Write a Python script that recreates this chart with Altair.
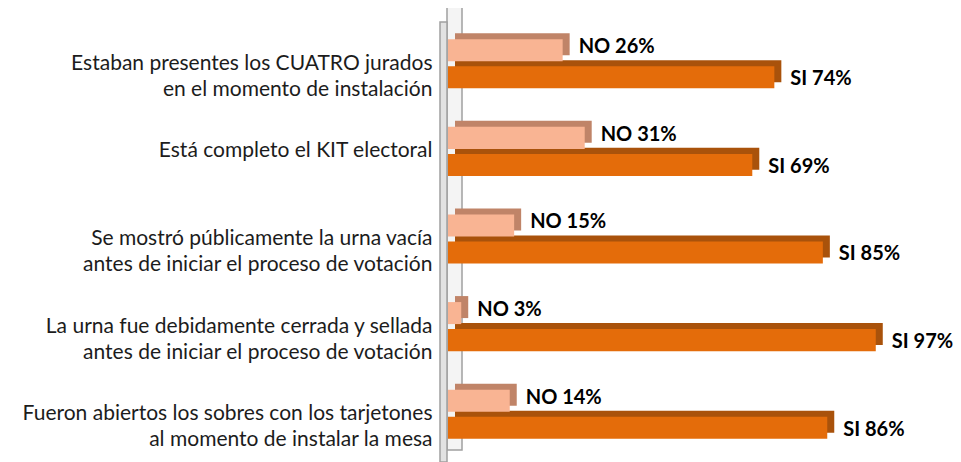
import altair as alt
import pandas as pd

categories = [
    "Estaban presentes los CUATRO jurados|en el momento de instalación",
    "Está completo el KIT electoral",
    "Se mostró públicamente la urna vacía|antes de iniciar el proceso de votación",
    "La urna fue debidamente cerrada y sellada|antes de iniciar el proceso de votación",
    "Fueron abiertos los sobres con los tarjetones|al momento de instalar la mesa",
]
no_values = [26, 31, 15, 3, 14]
si_values = [74, 69, 85, 97, 86]
series = ["NO", "SI"]

rows = []
for c, n, s in zip(categories, no_values, si_values):
    rows.append({"cat": c, "serie": "NO", "value": n, "label": f"NO {n}%"})
    rows.append({"cat": c, "serie": "SI", "value": s, "label": f"SI {s}%"})
df = pd.DataFrame(rows)

FONT = "Lato"

y_enc = alt.Y(
    "cat:N",
    sort=categories,
    scale=alt.Scale(paddingInner=0.44, paddingOuter=0.22),
    axis=alt.Axis(
        title=None, ticks=False, domain=False, labelAlign="right",
        labelBaseline="middle", labelPadding=16, labelFont=FONT,
        labelFontSize=21, labelColor="#1c1c1c", labelLineHeight=26,
        labelExpr="split(datum.label, '|')", labelLimit=500,
    ),
)
yoff = alt.YOffset("serie:N", sort=series,
                   scale=alt.Scale(type="band", domain=series, paddingInner=0.185, paddingOuter=0))
yoff_depth = alt.YOffset("serie:N", sort=series,
                         scale=alt.Scale(type="band", domain=series, range=[-6, 43],
                                         paddingInner=0.185, paddingOuter=0))
yoff_text = alt.YOffset("serie:N", sort=series,
                        scale=alt.Scale(type="point", domain=series, range=[11, 38], padding=0))
x_enc = alt.X("value:Q", scale=alt.Scale(domain=[0, 100]), axis=None)

base = alt.Chart(df)

wall_side = alt.Chart(alt.Data(values=[{}])).mark_rect(
    fill="#F4F4F4", stroke="#A0A0A0", strokeWidth=1.5
).encode(x=alt.value(-1), x2=alt.value(14), y=alt.value(-17), y2=alt.value(430))

wall_front = alt.Chart(alt.Data(values=[{}])).mark_rect(
    fill="#E2E2E2", stroke="#A0A0A0", strokeWidth=1.5
).encode(x=alt.value(-8), x2=alt.value(-1), y=alt.value(2), y2=alt.value(442))

depth = base.mark_bar(xOffset=7, x2Offset=7).encode(
    y=y_enc, yOffset=yoff_depth, x=x_enc,
    color=alt.Color("serie:N", scale=alt.Scale(domain=series, range=["#C08468", "#A9520B"]), legend=None),
)

front = base.mark_bar().encode(
    y=y_enc, yOffset=yoff, x=x_enc,
    fill=alt.Fill("serie:N", scale=alt.Scale(domain=series, range=["#F9B493", "#E46C0A"]), legend=None),
)

txt_no = base.transform_filter("datum.serie == 'NO'").mark_text(
    align="left", baseline="middle", dx=16, dy=-3, font=FONT, fontSize=20,
    fontWeight="bold", color="#000000"
).encode(y=y_enc, yOffset=yoff_text, x=x_enc, text="label:N")

txt_si = base.transform_filter("datum.serie == 'SI'").mark_text(
    align="left", baseline="middle", dx=16, dy=2, font=FONT, fontSize=20,
    fontWeight="bold", color="#000000"
).encode(y=y_enc, yOffset=yoff_text, x=x_enc, text="label:N")

chart = alt.layer(wall_side, wall_front, depth, front, txt_no, txt_si).resolve_scale(
    color="independent", fill="independent", yOffset="independent"
).properties(
    width=441, height=438,
    padding={"left": 440, "top": 12, "right": 64, "bottom": 4},
    autosize=alt.AutoSizeParams(type="none"),
).configure(background="white").configure_view(stroke=None)

chart.save("out.html", embed_options={"renderer": "svg", "actions": False})
